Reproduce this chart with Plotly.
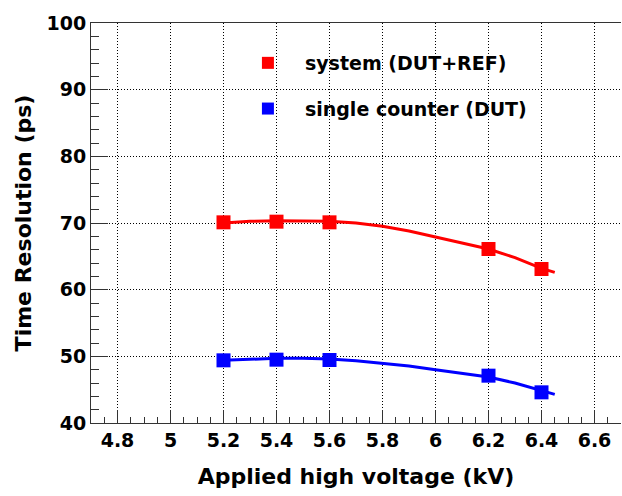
import plotly.graph_objects as go

# Data points
hv = [5.2, 5.4, 5.6, 6.2, 6.4]
sys_res = [70.1, 70.2, 70.1, 66.1, 63.1]
dut_res = [49.4, 49.5, 49.45, 47.1, 44.6]

# Fit curves
fit_hv = [5.2, 5.3, 5.4, 5.5, 5.6, 5.7, 5.8, 5.9, 6.0, 6.1, 6.2, 6.3, 6.4, 6.45]
sys_fit = [70.0, 70.25, 70.35, 70.35, 70.25, 70.0, 69.5, 68.8, 67.9, 67.0, 66.1, 64.8, 63.2, 62.6]
dut_fit = [49.4, 49.6, 49.7, 49.7, 49.6, 49.35, 49.0, 48.55, 48.0, 47.4, 46.9, 46.0, 44.9, 44.3]

x_ticks = [4.8, 5.0, 5.2, 5.4, 5.6, 5.8, 6.0, 6.2, 6.4, 6.6]
x_labels = ["4.8", "5", "5.2", "5.4", "5.6", "5.8", "6", "6.2", "6.4", "6.6"]
y_ticks = [40, 50, 60, 70, 80, 90, 100]
y_labels = ["40", "50", "60", "70", "80", "90", "100"]

FONT = "DejaVu Sans, Liberation Sans, Arial, sans-serif"

fig = go.Figure()
fig.add_trace(go.Scatter(x=fit_hv, y=sys_fit, mode="lines",
                         line=dict(color="#ff0000", width=3), showlegend=False,
                         hoverinfo="skip"))
fig.add_trace(go.Scatter(x=fit_hv, y=dut_fit, mode="lines",
                         line=dict(color="#0000ff", width=3), showlegend=False,
                         hoverinfo="skip"))
fig.add_trace(go.Scatter(x=hv, y=sys_res, mode="markers", name="system (DUT+REF)",
                         marker=dict(symbol="square", size=14, color="#ff0000"),
                         legendgroup="a"))
fig.add_trace(go.Scatter(x=hv, y=dut_res, mode="markers", name="single counter (DUT)",
                         marker=dict(symbol="square", size=14, color="#0000ff"),
                         legendgroup="b"))

fig.update_layout(
    width=622, height=496,
    margin=dict(l=91, r=1, t=23, b=73),
    paper_bgcolor="white", plot_bgcolor="white",
    font=dict(family=FONT, size=19, color="black", weight="bold"),
    legend=dict(x=0.264, y=0.9475, xanchor="left", yanchor="top",
                bgcolor="rgba(0,0,0,0)", font=dict(size=19, weight="bold"),
                tracegroupgap=18, itemwidth=64, itemsizing="constant"),
    xaxis=dict(
        range=[4.7, 6.7], tickvals=x_ticks, ticktext=x_labels,
        showline=True, linecolor="#333333", linewidth=1, mirror=True,
        ticks="inside", ticklen=13, tickwidth=1, tickcolor="#333333",
        minor=dict(dtick=0.05, tick0=0, ticks="inside", ticklen=6, tickcolor="#333333", showgrid=False),
        showgrid=True, gridcolor="black", gridwidth=1, griddash="1px,2px",
        zeroline=False,
        title=dict(text="Applied high voltage (kV)", font=dict(size=22, weight="bold"), standoff=18),
    ),
    yaxis=dict(
        range=[40, 100], tickvals=y_ticks, ticktext=y_labels,
        showline=True, linecolor="#333333", linewidth=1,
        ticks="inside", ticklen=17, tickwidth=1, tickcolor="#333333",
        minor=dict(dtick=2, tick0=0, ticks="inside", ticklen=8, tickcolor="#333333", showgrid=False),
        showgrid=True, gridcolor="black", gridwidth=1, griddash="1px,2px",
        zeroline=False,
        title=dict(text="Time Resolution (ps)", font=dict(size=22, weight="bold"), standoff=8),
    ),
)

fig.write_html("out.html")
